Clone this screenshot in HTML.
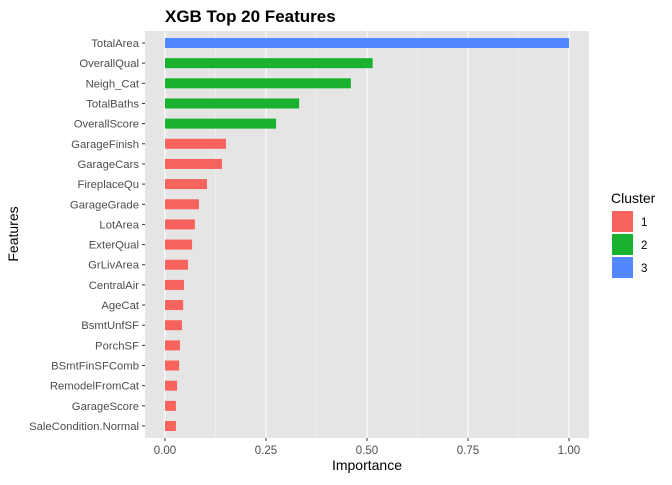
<!DOCTYPE html>
<html><head><meta charset="utf-8"><style>
body{margin:0;background:#fff;}
svg text{font-family:"Liberation Sans",Arial,sans-serif;}
</style></head><body>
<svg id="chart" width="672" height="480" xmlns="http://www.w3.org/2000/svg">
<text x="165" y="22" font-size="17" font-weight="bold" fill="#000">XGB Top 20 Features</text>
<rect x="145" y="31" width="444" height="407" fill="#e5e5e5"/>
<g id="grid"></g><g id="bars"></g><g id="yaxis"></g><g id="xaxis"></g>
<text x="367" y="470" font-size="14" text-anchor="middle" fill="#000">Importance</text>
<text transform="translate(18,234) rotate(-90)" font-size="14" text-anchor="middle" fill="#000">Features</text>
<g>
<text x="611" y="203" font-size="14" fill="#000">Cluster</text>
<rect x="612" y="211" width="21" height="21" fill="#f8635d"/>
<rect x="612" y="234" width="21" height="21" fill="#19b22f"/>
<rect x="612" y="257" width="21" height="21" fill="#5288ff"/>
<text x="641" y="226" font-size="11.5" fill="#000">1</text>
<text x="641" y="249" font-size="11.5" fill="#000">2</text>
<text x="641" y="272" font-size="11.5" fill="#000">3</text>
</g>
</svg>
<script>
const features=["TotalArea","OverallQual","Neigh_Cat","TotalBaths","OverallScore","GarageFinish","GarageCars","FireplaceQu","GarageGrade","LotArea","ExterQual","GrLivArea","CentralAir","AgeCat","BsmtUnfSF","PorchSF","BSmtFinSFComb","RemodelFromCat","GarageScore","SaleCondition.Normal"];
const importance=[1.0,0.514,0.46,0.332,0.275,0.151,0.141,0.104,0.084,0.074,0.067,0.057,0.047,0.045,0.042,0.037,0.035,0.030,0.027,0.027];
const clusters=[3,2,2,2,2,1,1,1,1,1,1,1,1,1,1,1,1,1,1,1];
const xTicks=[0,0.25,0.5,0.75,1.0];
const xTickLabels=["0.00","0.25","0.50","0.75","1.00"];
const colors={1:"#f8635d",2:"#19b22f",3:"#5288ff"};
const NS="http://www.w3.org/2000/svg";
const X=v=>165+v*404;
const Y=i=>43+i*(383/19);
function mk(tag,attrs,parent,txt){const e=document.createElementNS(NS,tag);for(const k in attrs)e.setAttribute(k,attrs[k]);if(txt!==undefined)e.textContent=txt;document.getElementById(parent).appendChild(e);return e;}
for(let j=0;j<xTicks.length-1;j++){
 const m=mk('line',{x1:X((xTicks[j]+xTicks[j+1])/2),x2:X((xTicks[j]+xTicks[j+1])/2),y1:31,y2:438,stroke:"#f2f2f2","stroke-width":0.6},'grid');
 
 
}
xTicks.forEach((t,j)=>{
 const g=mk('line',{x1:X(t),x2:X(t),y1:31,y2:438,stroke:"#fff","stroke-width":1.1},'grid');
 
 
 const tk=mk('line',{x1:X(t),x2:X(t),y1:438,y2:441,stroke:"#333","stroke-width":1},'xaxis');
 
 
 const lb=mk('text',{x:X(t),y:454,"font-size":11.5,"text-anchor":"middle",fill:"#4d4d4d"},'xaxis',xTickLabels[j]);
 
 
});
features.forEach((f,i)=>{
 const b=mk('rect',{x:X(0),y:Y(i)-5,width:X(importance[i])-X(0),height:10,fill:colors[clusters[i]]},'bars');
 
 
 const tk=mk('line',{x1:142,x2:145,y1:Y(i),y2:Y(i),stroke:"#333","stroke-width":1},'yaxis');
 
 
 const lb=mk('text',{x:139,y:Y(i)+4,"font-size":11.3,"text-anchor":"end",fill:"#4d4d4d"},'yaxis',f);
 
 
});
</script>
</body></html>
